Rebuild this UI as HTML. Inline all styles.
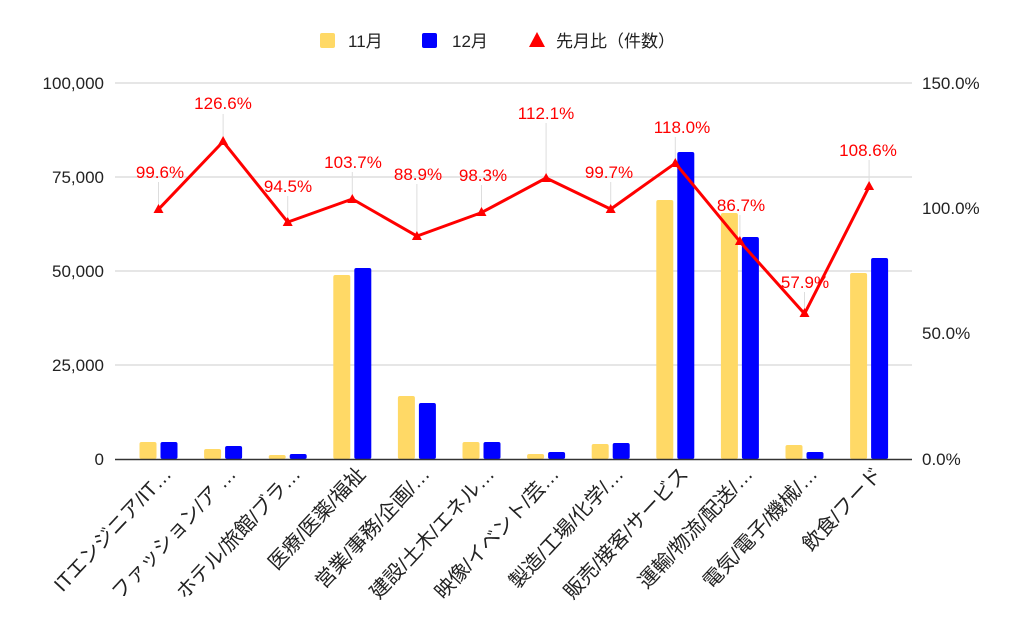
<!DOCTYPE html>
<html><head><meta charset="utf-8"><style>body{margin:0;background:#fff}svg{display:block}</style></head><body>
<svg width="1024" height="633" xmlns="http://www.w3.org/2000/svg" font-family="Liberation Sans, Noto Sans CJK JP, sans-serif">
<g stroke="#ccc" stroke-width="1">
<line x1="115" y1="83" x2="912" y2="83"/><line x1="115" y1="177" x2="912" y2="177"/><line x1="115" y1="271" x2="912" y2="271"/><line x1="115" y1="365" x2="912" y2="365"/>
</g>
<g font-size="17" fill="#222" text-anchor="end">
<text x="104" y="89">100,000</text><text x="104" y="183">75,000</text><text x="104" y="277">50,000</text><text x="104" y="371">25,000</text><text x="104" y="465">0</text>
</g>
<g font-size="17" fill="#222">
<text x="922" y="89">150.0%</text><text x="922" y="214">100.0%</text><text x="922" y="339">50.0%</text><text x="922" y="465">0.0%</text>
</g>
<g>
<rect x="139.5" y="442" width="17" height="17" fill="#ffd966" rx="2"/><rect x="160.5" y="442" width="17" height="17" fill="#0000ff" rx="2"/>
<rect x="204.1" y="449" width="17" height="10" fill="#ffd966" rx="2"/><rect x="225.1" y="446" width="17" height="13" fill="#0000ff" rx="2"/>
<rect x="268.7" y="455" width="17" height="4" fill="#ffd966" rx="2"/><rect x="289.7" y="454" width="17" height="5" fill="#0000ff" rx="2"/>
<rect x="333.3" y="275" width="17" height="184" fill="#ffd966" rx="2"/><rect x="354.3" y="268" width="17" height="191" fill="#0000ff" rx="2"/>
<rect x="397.9" y="396" width="17" height="63" fill="#ffd966" rx="2"/><rect x="418.9" y="403" width="17" height="56" fill="#0000ff" rx="2"/>
<rect x="462.5" y="442" width="17" height="17" fill="#ffd966" rx="2"/><rect x="483.5" y="442" width="17" height="17" fill="#0000ff" rx="2"/>
<rect x="527.1" y="454" width="17" height="5" fill="#ffd966" rx="2"/><rect x="548.1" y="452" width="17" height="7" fill="#0000ff" rx="2"/>
<rect x="591.7" y="444" width="17" height="15" fill="#ffd966" rx="2"/><rect x="612.7" y="443" width="17" height="16" fill="#0000ff" rx="2"/>
<rect x="656.3" y="200" width="17" height="259" fill="#ffd966" rx="2"/><rect x="677.3" y="152" width="17" height="307" fill="#0000ff" rx="2"/>
<rect x="720.9" y="213" width="17" height="246" fill="#ffd966" rx="2"/><rect x="741.9" y="237" width="17" height="222" fill="#0000ff" rx="2"/>
<rect x="785.5" y="445" width="17" height="14" fill="#ffd966" rx="2"/><rect x="806.5" y="452" width="17" height="7" fill="#0000ff" rx="2"/>
<rect x="850.1" y="273" width="17" height="186" fill="#ffd966" rx="2"/><rect x="871.1" y="258" width="17" height="201" fill="#0000ff" rx="2"/>
</g>
<line x1="115" y1="459.5" x2="912" y2="459.5" stroke="#333" stroke-width="1.5"/>
<g font-size="20" fill="#222" text-anchor="end">
<text transform="translate(172.5,475) rotate(-47)">ITエンジニア/IT…</text>
<text transform="translate(237.1,475) rotate(-47)">ファッション/ア …</text>
<text transform="translate(301.7,475) rotate(-47)">ホテル/旅館/ブラ…</text>
<text transform="translate(366.3,475) rotate(-47)">医療/医薬/福祉</text>
<text transform="translate(430.9,475) rotate(-47)">営業/事務/企画/…</text>
<text transform="translate(495.5,475) rotate(-47)">建設/土木/エネル…</text>
<text transform="translate(560.1,475) rotate(-47)">映像/イベント/芸…</text>
<text transform="translate(624.7,475) rotate(-47)">製造/工場/化学/…</text>
<text transform="translate(689.3,475) rotate(-47)">販売/接客/サービス</text>
<text transform="translate(753.9,475) rotate(-47)">運輸/物流/配送/…</text>
<text transform="translate(818.5,475) rotate(-47)">電気/電子/機械/…</text>
<text transform="translate(883.1,475) rotate(-47)">飲食/フード</text>
</g>
<g stroke="#ddd" stroke-width="1">
<line x1="158.5" y1="182" x2="158.5" y2="209"/><line x1="223.1" y1="114" x2="223.1" y2="141"/><line x1="287.7" y1="196" x2="287.7" y2="222"/><line x1="352.3" y1="172" x2="352.3" y2="199"/><line x1="416.9" y1="184" x2="416.9" y2="236"/><line x1="481.5" y1="185" x2="481.5" y2="212"/><line x1="546.1" y1="123" x2="546.1" y2="178"/><line x1="610.7" y1="182" x2="610.7" y2="209"/><line x1="675.3" y1="137" x2="675.3" y2="163"/><line x1="739.9" y1="215" x2="739.9" y2="241"/><line x1="804.5" y1="292" x2="804.5" y2="313"/><line x1="869.1" y1="160" x2="869.1" y2="186"/>
</g>
<g font-size="17" fill="#ff0000" text-anchor="middle">
<text x="160" y="178">99.6%</text><text x="223" y="109">126.6%</text><text x="288" y="192">94.5%</text><text x="353" y="168">103.7%</text><text x="418" y="180">88.9%</text><text x="483" y="181">98.3%</text><text x="546" y="119">112.1%</text><text x="609" y="178">99.7%</text><text x="682" y="133">118.0%</text><text x="741" y="211">86.7%</text><text x="805" y="288">57.9%</text><text x="868" y="156">108.6%</text>
</g>
<polyline points="158.5,209.3 223.1,141.6 287.7,222.1 352.3,199 416.9,236.1 481.5,212.6 546.1,178 610.7,209.1 675.3,163.2 739.9,241.6 804.5,313.8 869.1,186.7" fill="none" stroke="#ff0000" stroke-width="3" stroke-linejoin="round"/>
<g fill="#ff0000">
<polygon points="158.5,204 163.5,213 153.5,213"/><polygon points="223.1,136 228.1,145 218.1,145"/><polygon points="287.7,217 292.7,226 282.7,226"/><polygon points="352.3,194 357.3,203 347.3,203"/><polygon points="416.9,231 421.9,240 411.9,240"/><polygon points="481.5,207 486.5,216 476.5,216"/><polygon points="546.1,173 551.1,182 541.1,182"/><polygon points="610.7,204 615.7,213 605.7,213"/><polygon points="675.3,158 680.3,167 670.3,167"/><polygon points="739.9,236 744.9,245 734.9,245"/><polygon points="804.5,308 809.5,317 799.5,317"/><polygon points="869.1,181 874.1,190 864.1,190"/>
</g>
<g font-size="17" fill="#222">
<rect x="320" y="33" width="15" height="15" fill="#ffd966" rx="2"/><text x="348" y="47">11月</text>
<rect x="422" y="33" width="15" height="15" fill="#0000ff" rx="2"/><text x="452" y="47">12月</text>
<polygon points="537,32 545,47 529,47" fill="#ff0000"/><text x="556" y="47">先月比（件数）</text>
</g>
</svg>
</body></html>
